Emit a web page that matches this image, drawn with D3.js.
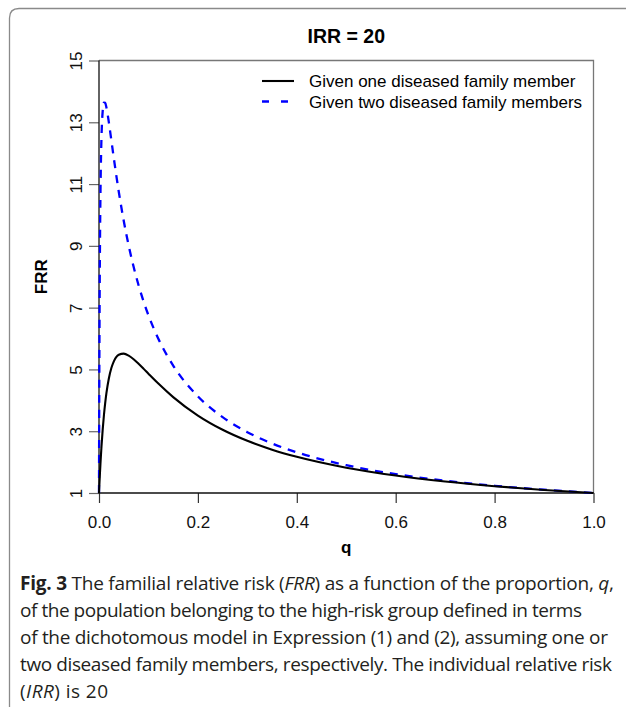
<!DOCTYPE html>
<html>
<meta charset="utf-8">
<script src="https://d3js.org/d3.v7.min.js"></script>
<style>
  body { margin: 0; background: #fff; }
  text { font-family: "Liberation Sans", Arial, sans-serif; }
  .cap { font-family: "Open Sans", "Noto Sans", sans-serif; fill: #231f20; }
</style>
<body>
<div id="chart"></div>
<script>

// FRR, IRR = 20
var qValues = [0, 0.0005, 0.001, 0.002, 0.003, 0.004, 0.005, 0.0075, 0.01, 0.0125, 0.015, 0.02, 0.025,
               0.03, 0.04, 0.05, 0.06, 0.07, 0.08, 0.09, 0.1, 0.12, 0.15, 0.2, 0.25, 0.3, 0.35,
               0.4, 0.5, 0.6, 0.7, 0.8, 0.9, 1.0];
var frrOne = [1, 1.177, 1.347, 1.669, 1.966, 2.242, 2.498, 3.059, 3.524, 3.910, 4.230, 4.715, 5.045,
              5.262, 5.475, 5.510, 5.446, 5.329, 5.184, 5.026, 4.863, 4.543, 4.105, 3.507, 3.047, 2.689, 2.403,
              2.171, 1.819, 1.564, 1.371, 1.220, 1.099, 1];
var frrTwo = [1, 4.129, 6.313, 9.108, 10.764, 11.813, 12.500, 13.371, 13.639, 13.629, 13.479, 12.990, 12.415,
              11.834, 10.753, 9.815, 9.011, 8.322, 7.726, 7.207, 6.752, 5.993, 5.126, 4.128, 3.454, 2.969, 2.603,
              2.317, 1.900, 1.610, 1.397, 1.234, 1.105, 1];

var xTicks = [0, 0.2, 0.4, 0.6, 0.8, 1.0];
var yTicks = [1, 3, 5, 7, 9, 11, 13, 15];

var seriesNames = ["Given one diseased family member", "Given two diseased family members"];

var captionLines = [
  [["b", "Fig. 3"], ["", " The familial relative risk ("], ["i", "FRR"], ["", ") as a function of the proportion, "], ["i", "q"], ["", ","]],
  [["", "of the population belonging to the high-risk group defined in terms"]],
  [["", "of the dichotomous model in Expression (1) and (2), assuming one or"]],
  [["", "two diseased family members, respectively. The individual relative risk"]],
  [["", "("], ["i", "IRR"], ["", ") is 20"]]
];
var captionWidths = [594, 562, 588, 592, 88];

var W = 626, H = 707;
var margin = {top: 60.5, right: 32, bottom: 214, left: 99};

var svg = d3.select("#chart")
  .append("svg")
    .attr("width", W)
    .attr("height", H);

// outer figure frame (rounded corner, cut off right and bottom)
svg.append("path")
  .attr("d", "M9.5," + H + " V18 Q9.5,8.5 19,8.5 H" + W)
  .attr("fill", "none")
  .attr("stroke", "#8a8a8a")
  .attr("stroke-width", 1.3);

var x = d3.scaleLinear()
  .domain([0, 1])
  .range([margin.left, W - margin.right - 0.5]);

var y = d3.scaleLinear()
  .domain([1, 15])
  .range([H - margin.bottom, margin.top]);

// axes
var xAxis = svg.append("g")
  .attr("transform", "translate(0," + y(1) + ")")
  .call(d3.axisBottom(x).tickValues(xTicks).tickFormat(d3.format(".1f")).tickSize(10).tickSizeOuter(0).tickPadding(13));
xAxis.select(".domain").remove();
xAxis.selectAll("line").attr("stroke", "#333").attr("stroke-width", 1.2);
xAxis.selectAll("text").style("font-size", "17px").attr("fill", "#111");

var yAxis = svg.append("g")
  .attr("transform", "translate(" + x(0) + ",0)")
  .call(d3.axisLeft(y).tickValues(yTicks).tickSize(10).tickSizeOuter(0));
yAxis.select(".domain").remove();
yAxis.selectAll("line").attr("stroke", "#666").attr("stroke-width", 1.2);
yAxis.selectAll("text")
  .attr("transform", "rotate(-90)")
  .attr("x", 0)
  .attr("y", -17)
  .attr("dy", 0)
  .style("text-anchor", "middle")
  .style("font-size", "17px")
  .attr("fill", "#111");

// plot box
svg.append("path")
  .attr("d", "M" + x(0) + "," + y(15) + " H" + x(1) + " V" + y(1))
  .attr("fill", "none")
  .attr("stroke", "#777")
  .attr("stroke-width", 1.3);
svg.append("path")
  .attr("d", "M" + x(0) + "," + y(15) + " V" + y(1) + " H" + x(1))
  .attr("fill", "none")
  .attr("stroke", "#111")
  .attr("stroke-width", 1.3);

// curves
var line = d3.line()
  .x(function(d) { return x(d[0]); })
  .y(function(d) { return y(d[1]); })
  .curve(d3.curveMonotoneX);

svg.append("path")
  .datum(d3.zip(qValues, frrTwo))
  .attr("d", line)
  .attr("fill", "none")
  .attr("stroke", "#0000ff")
  .attr("stroke-width", 2.3)
  .attr("stroke-dasharray", "8,7");

svg.append("path")
  .datum(d3.zip(qValues, frrOne))
  .attr("d", line)
  .attr("fill", "none")
  .attr("stroke", "#000")
  .attr("stroke-width", 2.1);

// title and axis labels
svg.append("text")
  .attr("x", (x(0) + x(1)) / 2)
  .attr("y", 43)
  .attr("text-anchor", "middle")
  .style("font-size", "19.5px")
  .style("font-weight", "bold")
  .text("IRR = 20");

svg.append("text")
  .attr("x", (x(0) + x(1)) / 2)
  .attr("y", 553)
  .attr("text-anchor", "middle")
  .style("font-size", "17px")
  .style("font-weight", "bold")
  .text("q");

svg.append("text")
  .attr("transform", "translate(47," + (y(1) + y(15)) / 2 + ") rotate(-90)")
  .attr("text-anchor", "middle")
  .style("font-size", "17px")
  .style("font-weight", "bold")
  .text("FRR");

// legend
var legend = svg.append("g");
seriesNames.forEach(function(name, i) {
  var ly = 81 + i * 20.5;
  legend.append("line")
    .attr("x1", 262).attr("x2", 294)
    .attr("y1", ly).attr("y2", ly)
    .attr("stroke", i === 0 ? "#000" : "#0000ff")
    .attr("stroke-width", i === 0 ? 2.1 : 2.3)
    .attr("stroke-dasharray", i === 0 ? null : "7,12");
  legend.append("text")
    .attr("x", 309)
    .attr("y", ly + 6)
    .style("font-size", "17px")
    .text(name);
});

// caption
var cap = svg.append("g");
captionLines.forEach(function(parts, i) {
  var t = cap.append("text")
    .attr("class", "cap")
    .attr("x", 20)
    .attr("y", 590 + i * 27)
    .style("font-size", "19px");
  parts.forEach(function(p) {
    var s = t.append("tspan").text(p[1]);
    if (p[0] === "b") s.style("font-weight", "bold");
    if (p[0] === "i") s.style("font-style", "italic");
  });
  if (captionWidths[i]) t.attr("textLength", captionWidths[i]);
});

</script>
</body>
</html>
